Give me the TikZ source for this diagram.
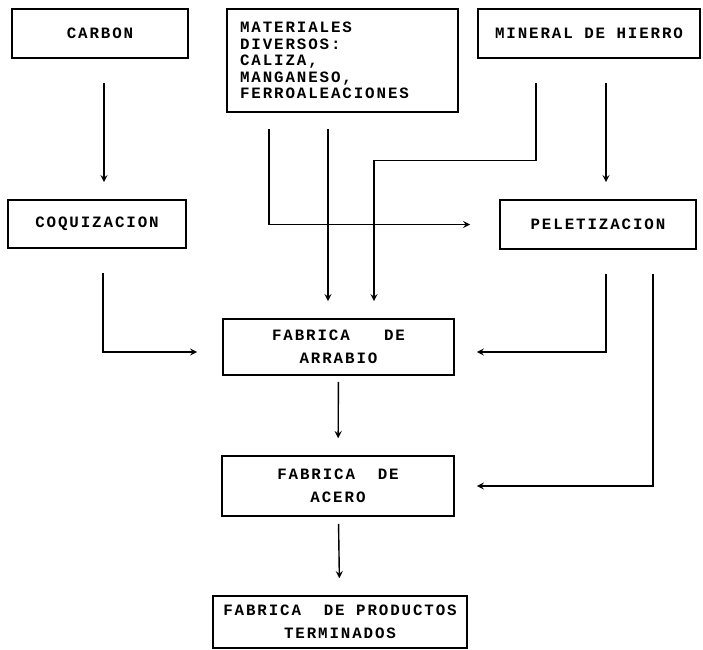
\documentclass[tikz,border=0pt]{standalone}
\usepackage{fontspec}
\newfontfamily\prnfont{Liberation Mono}[LetterSpace=12]

\begin{document}
\begin{tikzpicture}[
		font=\prnfont\bfseries\fontsize{9}{9.4}\selectfont,
		box/.style={rectangle, draw, line width=0.9pt, align=center, inner sep=0pt},
		arr/.style={->, >=stealth, line width=0.8pt, shorten <=0.48cm, shorten >=0.34cm}
	]
		\useasboundingbox (0,0) rectangle (14.06,-13);
		\node[box, minimum width=3.52cm, minimum height=0.98cm] (carbon) at (2.00,-0.67) {CARBON};
		\node[box, align=left, text width=4.10cm, inner xsep=0.26cm, minimum height=2.06cm] (mat) at (6.85,-1.21) {MATERIALES\\DIVERSOS:\\CALIZA,\\MANGANESO,\\FERROALEACIONES};
		\node[box, minimum width=4.44cm, minimum height=0.98cm] (mineral) at (11.78,-0.67) {MINERAL DE HIERRO};
		\node[box, minimum width=3.56cm, minimum height=0.96cm] (coq) at (1.94,-4.48) {COQUIZACION};
		\node[box, minimum width=3.92cm, minimum height=0.98cm] (pel) at (11.96,-4.49) {PELETIZACION};
		\node[box, minimum width=4.62cm, minimum height=1.12cm] (arrabio) at (6.77,-6.94) {FABRICA\ \ \ DE\\[4pt]ARRABIO};
		\node[box, minimum width=4.64cm, minimum height=1.20cm] (acero) at (6.76,-9.72) {FABRICA\ \ DE\\[4pt]ACERO};
		\node[box, minimum width=5.08cm, minimum height=1.04cm] (prod) at (6.80,-12.44) {FABRICA\ \ DE PRODUCTOS\\[4pt]TERMINADOS};
		\draw[arr] ([xshift=0.08cm]carbon.south) -- ([xshift=0.08cm]carbon.south |- coq.north);
		\draw[arr, shorten <=0.32cm, shorten >=0.58cm] ([xshift=-1.47cm]mat.south) |- (pel.west);
		\draw[arr, shorten <=0.32cm] ([xshift=-0.29cm]mat.south) -- ([xshift=-0.29cm]mat.south |- arrabio.north);
		\draw[arr] ([xshift=-1.06cm]mineral.south) -- ++(0,-2.04) -| ([xshift=0.71cm]arrabio.north);
		\draw[arr] ([xshift=0.34cm]mineral.south) -- ([xshift=0.34cm]mineral.south |- pel.north);
		\draw[arr, shorten >=0.5cm] ([xshift=0.12cm]coq.south) |- ([yshift=-0.1cm]arrabio.west);
		\draw[arr, shorten >=0.44cm] ([xshift=0.16cm]pel.south) |- ([yshift=-0.1cm]arrabio.east);
		\draw[arr, shorten >=0.44cm] ([xshift=1.1cm]pel.south) |- (acero.east);
		\draw[arr, shorten <=0.12cm] (arrabio) -- (acero);
		\draw[arr, shorten <=0.14cm] (acero) -- (prod);
	\end{tikzpicture}
\end{document}
